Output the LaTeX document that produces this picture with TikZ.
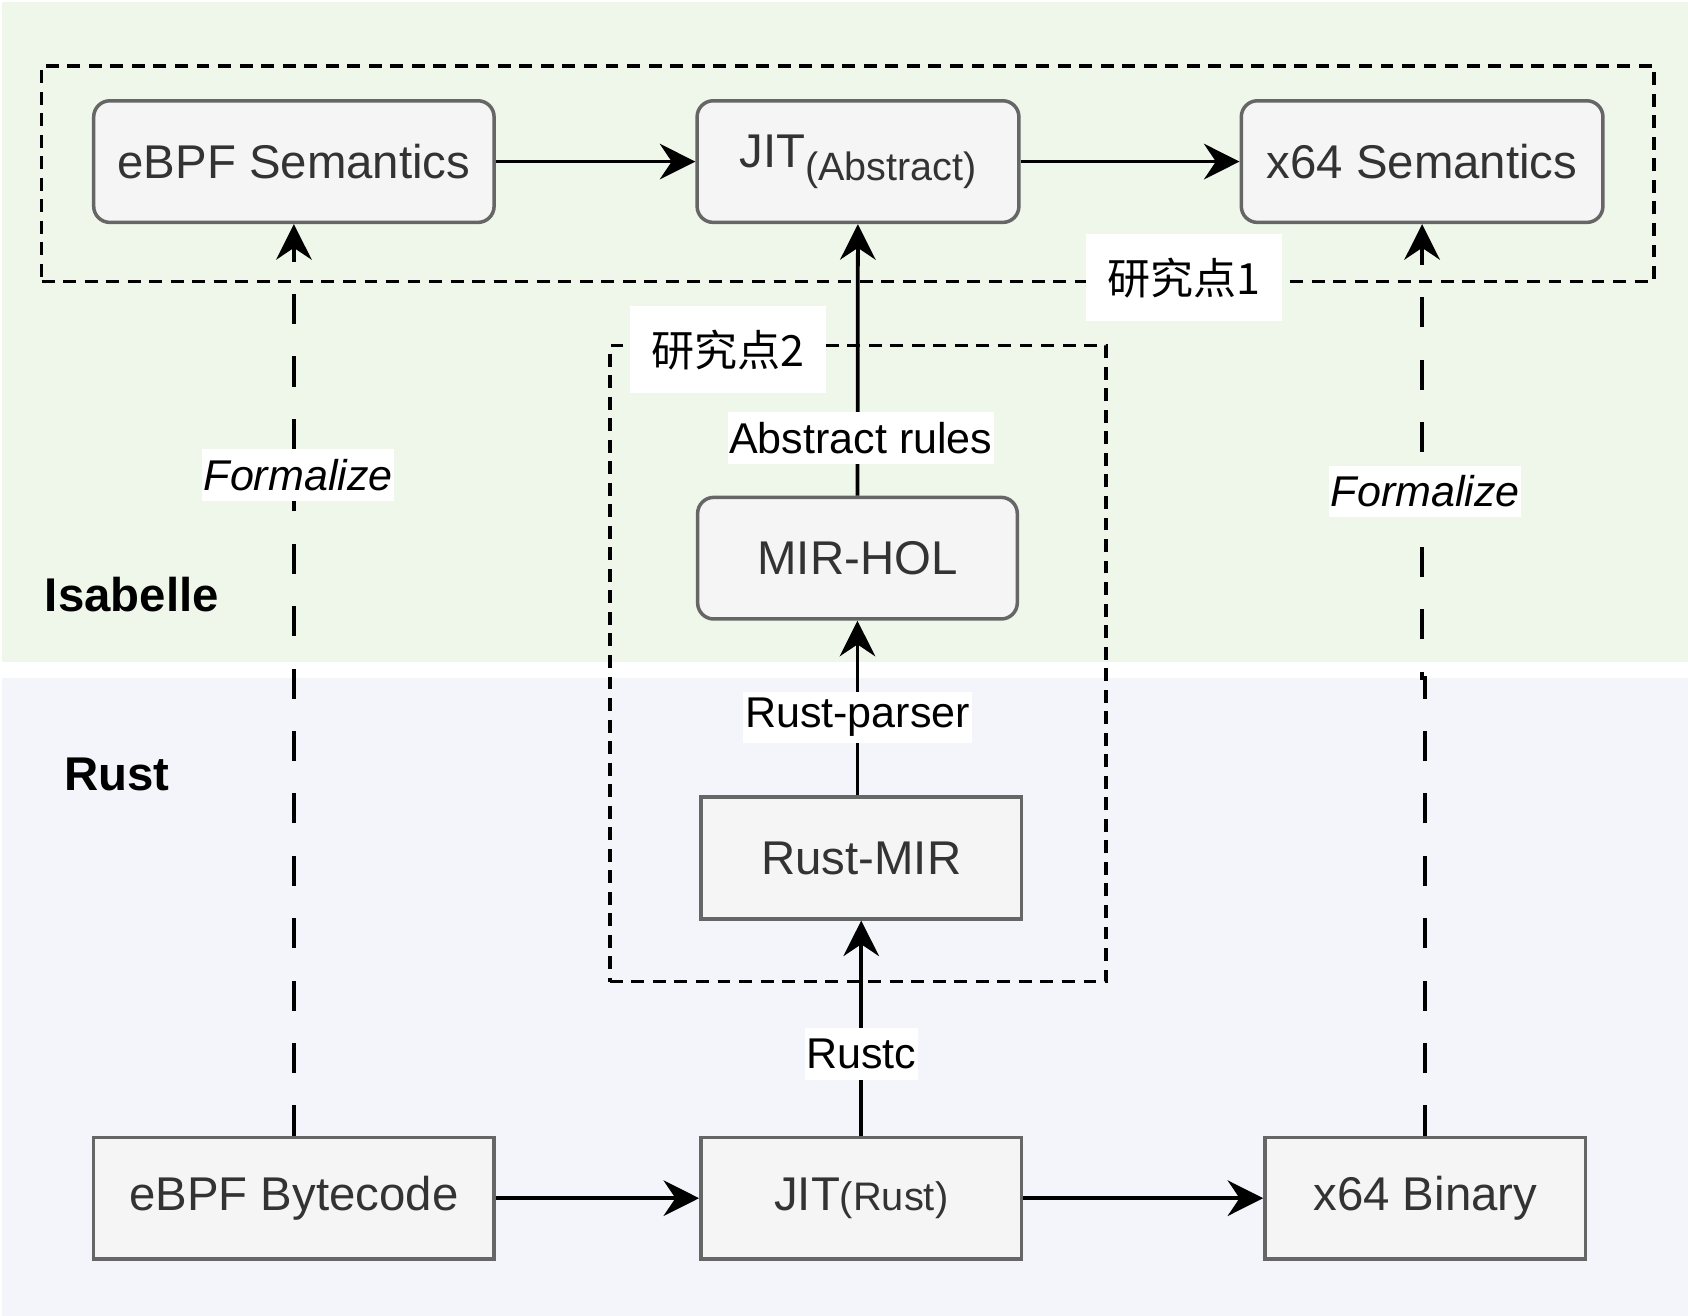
\documentclass[tikz,border=0pt]{standalone}
\usepackage{fontspec}
\setmainfont{Liberation Sans}
\newfontfamily\cjk{Noto Sans CJK SC}
\usetikzlibrary{arrows.meta,calc}
\definecolor{bggreen}{RGB}{239,247,235}
\definecolor{bgblue}{RGB}{243,245,250}
\definecolor{boxfill}{RGB}{245,245,245}
\definecolor{boxline}{RGB}{102,102,102}
\definecolor{boxtext}{RGB}{51,51,51}
\begin{document}
\begin{tikzpicture}[x=0.02cm,y=-0.02cm,
  box/.style={draw=boxline, fill=boxfill, line width=0.065cm, text=boxtext,
    font=\fontsize{25.04pt}{30pt}\selectfont, inner sep=0pt, minimum height=2.26cm},
  rbox/.style={box, rounded corners=0.3cm},
  arr/.style={line width=0.07cm, -{Stealth[length=0.66cm,width=0.66cm,inset=0.22cm]}},
  darr/.style={arr, dash pattern=on 0.56cm off 0.6cm},
  region/.style={draw, line width=0.06cm, dash pattern=on 0.24cm off 0.16cm, inner sep=0pt},
  lab/.style={fill=white, text=black, font=\fontsize{22.76pt}{27pt}\selectfont,
    inner xsep=0.03cm, inner ysep=0pt, minimum height=0.96cm},
  flab/.style={lab, font=\itshape\fontsize{22.76pt}{27pt}\selectfont},
  tag/.style={fill=white, font=\cjk\fontsize{22.76pt}{27pt}\selectfont,
    minimum width=3.64cm, minimum height=1.62cm, inner sep=0pt},
  lane/.style={font=\bfseries\fontsize{25.04pt}{30pt}\selectfont},
]
\useasboundingbox (0,0) rectangle (1568,1222.4);
% backgrounds
\fill[white] (0,0) rectangle (1568,1222.4);
\fill[bggreen] (1.5,1.5) rectangle (1568,615);
\fill[bgblue] (1.5,630) rectangle (1568,1222.4);

% research regions
\node[region, minimum width=29.96cm, minimum height=4.0cm] (rp1) at (787.5,161.2) {};
\node[region, minimum width=9.218cm, minimum height=11.816cm] (rp2) at (796.95,616.4) {};
\node[tag] (t1) at (1099.7,258) {研究点1};
\node[tag] (t2) at (676.5,325) {研究点2};

% lane labels
\node[lane] (isa) at (122.5,552.5) {Isabelle};
\node[lane] (rst) at (108.5,719.5) {Rust};

% boxes
\node[rbox, minimum width=7.44cm] (esem) at (273,150.1) {eBPF Semantics};
\node[rbox, minimum width=5.98cm] (jita) at (797,150.1) {JIT\raisebox{-0.24cm}{\fontsize{20.9pt}{25pt}\selectfont(Abstract)}};
\node[rbox, minimum width=6.72cm] (xsem) at (1321,150.1) {x64 Semantics};
\node[rbox, minimum width=5.94cm] (mirhol) at (796.5,518.5) {MIR-HOL};
\node[box, minimum width=5.96cm] (rmir) at (800,797) {Rust-MIR};
\node[box, minimum width=7.44cm] (ebc) at (273,1113) {eBPF Bytecode};
\node[box, minimum width=5.96cm] (jitr) at (800,1113) {JIT{\fontsize{21.05pt}{25pt}\selectfont(Rust)}};
\node[box, minimum width=5.96cm] (xbin) at (1324,1113) {x64 Binary};

% solid arrows
\draw[arr] (esem) -- (jita);
\draw[arr] (jita) -- (xsem);
\draw[arr] (ebc) -- (jitr);
\draw[arr] (jitr) -- (xbin);
\draw[arr] (mirhol) -- node[lab, pos=0.213, xshift=0.06cm] {Abstract rules} (jita);
\draw[arr] (mirhol.south |- rmir.north) -- node[lab, pos=0.447] {Rust-parser} (mirhol.south);
\draw[arr] (jitr) -- node[lab, pos=0.381] {Rustc} (rmir);

% dashed formalize arrows
\draw[darr] (ebc) -- node[flab, pos=0.725, xshift=0.08cm] {Formalize} (esem);
\draw[darr] (xbin.north) |- ($(xsem.south)+(0,421.4)$) -- node[flab, pos=0.411, xshift=0.06cm] {Formalize} (xsem.south);
\end{tikzpicture}
\end{document}
